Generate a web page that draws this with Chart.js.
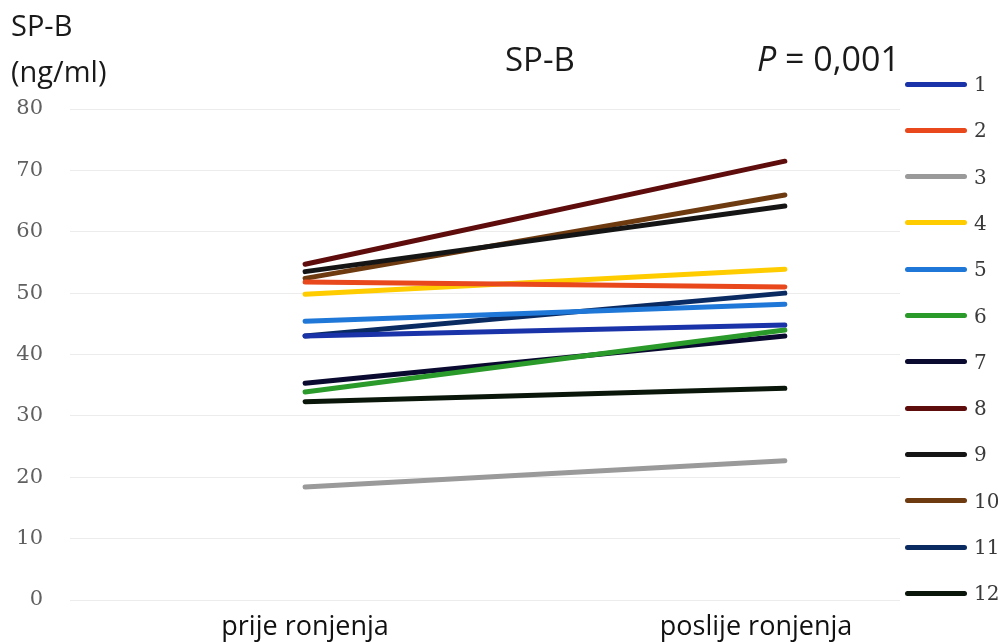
<!DOCTYPE html>
<html>
<head>
<meta charset="utf-8">
<script src="https://cdn.jsdelivr.net/npm/chart.js@4.4.1/dist/chart.umd.min.js"></script>
<style>
  html, body { margin: 0; padding: 0; background: #ffffff; }
  #wrap { position: relative; width: 998px; height: 642px; overflow: hidden; }
  #c { position: absolute; left: 0; top: 0; }
  .txt { position: absolute; font-family: "Open Sans", sans-serif; color: #1a1a1a; white-space: nowrap; line-height: 1; }
  .leg-line { position: absolute; height: 5px; border-radius: 3px; }
  .leg-lab { position: absolute; font-family: "DejaVu Serif", serif; font-size: 20px; color: #3a3a3a; line-height: 22px; }
</style>
</head>
<body>
<div id="wrap">
  <canvas id="c" width="998" height="642"></canvas>
  <div class="txt" style="left:11px; top:10px; font-size:29px;">SP-B</div>
  <div class="txt" style="left:11px; top:56px; font-size:29px;">(ng/ml)</div>
  <div class="txt" style="left:505px; top:42px; font-size:33px;">SP-B</div>
  <div class="txt" style="left:757px; top:41px; font-size:34px;"><i>P</i> = 0,001</div>
  <div id="legend"></div>
</div>
<script>
// ---- data ----
const categories = ['prije ronjenja', 'poslije ronjenja'];
const subjects = ['1', '2', '3', '4', '5', '6', '7', '8', '9', '10', '11', '12'];
const prije   = [43.0, 51.8, 18.4, 49.8, 45.4, 33.9, 35.3, 54.7, 53.5, 52.4, 43.0, 32.3];
const poslije = [44.8, 51.0, 22.7, 53.9, 48.2, 44.0, 43.0, 71.5, 64.2, 66.0, 50.0, 34.5];
const yTicks = [0, 10, 20, 30, 40, 50, 60, 70, 80];
const colors = ['#1a33a8', '#e8481c', '#9a9a9a', '#ffcc00', '#1f78d8', '#2a9a2a',
                '#0a0a30', '#5e0c0c', '#151515', '#6e3a10', '#0a2a62', '#0a160a'];

const datasets = subjects.map((s, i) => ({
  label: s,
  data: [{ x: 0, y: prije[i] }, { x: 1, y: poslije[i] }],
  borderColor: colors[i],
  backgroundColor: colors[i],
  borderWidth: 5,
  borderCapStyle: 'round',
  pointRadius: 0,
  tension: 0
}));

new Chart(document.getElementById('c'), {
  type: 'line',
  data: { datasets },
  options: {
    responsive: false,
    animation: false,
    layout: { padding: { top: 109, right: 98, left: 0, bottom: 0 } },
    plugins: { legend: { display: false }, tooltip: { enabled: false }, title: { display: false } },
    scales: {
      x: {
        type: 'linear',
        min: -0.49,
        max: 1.24,
        grid: { display: false },
        border: { display: false },
        // category labels: the second label sits slightly left of its points, as in the source
        afterBuildTicks: (s) => { s.ticks = [{ value: 0, i: 0 }, { value: 0.94, i: 1 }]; },
        afterFit: (s) => { s.height = 42; },
        ticks: {
          autoSkip: false,
          maxRotation: 0,
          padding: 3,
          color: '#111',
          font: { family: '"Open Sans", sans-serif', size: 27 },
          callback: (v, idx) => categories[idx]
        }
      },
      y: {
        min: 0,
        max: 80,
        afterBuildTicks: (s) => { s.ticks = yTicks.map(v => ({ value: v })); },
        afterFit: (s) => { s.width = 70; },
        grid: { color: '#ececec', lineWidth: 1, drawTicks: false },
        border: { display: false },
        ticks: {
          padding: 27,
          color: '#606060',
          font: { family: '"DejaVu Serif", serif', size: 21 }
        }
      }
    }
  }
});

// legend built from the arrays
const leg = document.getElementById('legend');
subjects.forEach((s, i) => {
  const cy = 84 + i * 46.3;
  const line = document.createElement('div');
  line.className = 'leg-line';
  line.style.left = '905px';
  line.style.width = '62px';
  line.style.top = (cy - 2.5) + 'px';
  line.style.background = colors[i];
  leg.appendChild(line);
  const lab = document.createElement('div');
  lab.className = 'leg-lab';
  lab.style.left = '974px';
  lab.style.top = (cy - 11) + 'px';
  lab.textContent = s;
  leg.appendChild(lab);
});
</script>
</body>
</html>
